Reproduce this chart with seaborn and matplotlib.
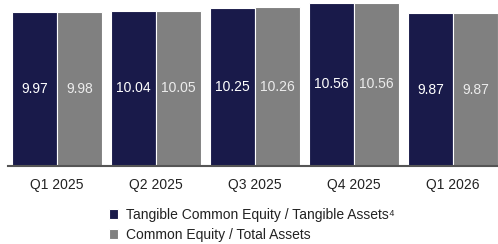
import pandas as pd
import matplotlib
matplotlib.use("Agg")
import matplotlib.pyplot as plt
import seaborn as sns

# data
quarters = ["Q1 2025", "Q2 2025", "Q3 2025", "Q4 2025", "Q1 2026"]
tangible = [9.97, 10.04, 10.25, 10.56, 9.87]
common = [9.98, 10.05, 10.26, 10.56, 9.87]
series = ["Tangible Common Equity / Tangible Assets\u2074", "Common Equity / Total Assets"]

df = pd.DataFrame({
    "quarter": quarters * 2,
    "value": tangible + common,
    "series": [series[0]] * len(quarters) + [series[1]] * len(quarters),
})

sns.set_style("white")
plt.rcParams["font.family"] = ["Liberation Sans", "DejaVu Sans"]

fig = plt.figure(figsize=(4.98, 2.44), dpi=100)
ax = fig.add_axes([8 / 498, 78 / 244, 490 / 498, 166 / 244])

palette = {series[0]: "#191a4a", series[1]: "#808080"}
sns.barplot(data=df, x="quarter", y="value", hue="series", palette=palette,
            width=0.91, saturation=1, edgecolor="white", linewidth=0.8, ax=ax)

# value labels in the middle of each bar
for cont, col in zip(ax.containers, ["white", "#ececec"]):
    ax.bar_label(cont, labels=[f"{v:.2f}" for v in cont.datavalues],
                 label_type="center", color=col, fontsize=10)

ax.set_xlim(-0.495, 4.455)
ax.set_ylim(0, 10.74)
ax.set_xlabel("")
ax.set_ylabel("")
ax.set_yticks([])
ax.tick_params(axis="x", length=0, labelsize=10, pad=9, colors="#222222")
for s in ["top", "right", "left"]:
    ax.spines[s].set_visible(False)
ax.spines["bottom"].set_color("#555555")
ax.spines["bottom"].set_linewidth(1.5)

handles, labels = ax.get_legend_handles_labels()
ax.legend_.remove()
fig.legend(handles, labels, loc="upper left", bbox_to_anchor=(103 / 498, 1 - 202 / 244),
           frameon=False, fontsize=10, handlelength=0.7, handleheight=0.7,
           handletextpad=0.55, labelspacing=0.45, borderaxespad=0, labelcolor="#222222")

fig.savefig("out.png", dpi=100)
